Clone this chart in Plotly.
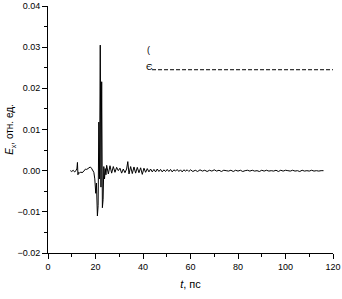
import plotly.graph_objects as go

# --- data ---
t_pre = [9.4, 10.0, 10.6, 11.2, 11.8, 12.2, 12.4, 12.6, 12.9, 13.3, 13.8, 14.3,
         14.8, 15.3, 15.8, 16.3, 16.8, 17.3, 17.8, 18.3, 18.8, 19.3]
v_pre = [0.0000, -0.0002, 0.0001, -0.0003, 0.0000, 0.0006, 0.0020, -0.0010,
         -0.0004, -0.0006, -0.0003, -0.0005, -0.0003, 0.0002, 0.0004, 0.0003,
         0.0005, 0.0008, 0.0009, 0.0006, 0.0002, -0.0004]

t_pulse = [19.7, 20.1, 20.4, 20.8, 21.1, 21.4, 21.7, 22.0, 22.3, 22.6, 22.9,
           23.2, 23.5, 23.8, 24.1, 24.4]
v_pulse = [-0.0020, -0.0055, -0.0030, -0.0110, -0.0085, 0.0118, -0.0020,
           0.0305, -0.0040, 0.0216, -0.0090, -0.0070, 0.0010, -0.0020, 0.0005,
           -0.0010]

t_ring = [24.7, 25.4, 26.1, 26.8, 27.5, 28.2, 28.9, 29.6, 30.3, 31.0, 31.7,
          32.4, 33.1, 33.6, 34.1, 34.8, 35.5, 36.2, 36.9, 37.6, 38.3, 39.0,
          39.7, 40.4, 41.1, 41.8, 42.5, 43.2, 43.9, 44.6]
v_ring = [0.0013, -0.0008, 0.0012, -0.0006, 0.0010, -0.0004, 0.0008, 0.0000,
          0.0006, -0.0006, 0.0004, -0.0005, 0.0004, 0.0022, -0.0008, 0.0010,
          -0.0007, 0.0009, -0.0006, 0.0008, -0.0005, 0.0007, -0.0009, 0.0006,
          -0.0004, 0.0005, -0.0003, 0.0004, -0.0003, 0.0003]

t_mid = [45.3, 46.0, 46.7, 47.4, 48.1, 48.8, 49.5, 50.2, 50.9, 51.6, 52.3,
         53.0, 53.7, 54.4, 55.1, 55.8, 56.5, 57.2, 57.9, 58.6, 59.3]
v_mid = [-0.0003, 0.0004, -0.0002, 0.0003, -0.0003, 0.0002, -0.0002, 0.0003,
         -0.0002, 0.0003, -0.0003, 0.0002, -0.0001, 0.0003, -0.0002, 0.0002,
         -0.0003, 0.0002, -0.0001, 0.0002, -0.0002]

t_tail = [60, 61, 62, 63, 64, 65, 66, 67, 68, 69, 70, 71, 72, 73, 74, 75, 76,
          77, 78, 79, 80, 81, 82, 83, 84, 85, 86, 87, 88, 89, 90, 91, 92, 93,
          94, 95, 96, 97, 98, 99, 100, 101, 102, 103, 104, 105, 106, 107, 108,
          109, 110, 111, 112, 113, 114, 115, 116]
v_tail = [0.0002, -0.0002, 0.0001, -0.0002, 0.0002, -0.0001, 0.0001, -0.0002,
          0.0001, -0.0001, 0.0002, -0.0001, 0.0001, -0.0002, 0.0001, 0.0000,
          -0.0001, 0.0001, -0.0002, 0.0001, -0.0001, 0.0001, -0.0002, 0.0000,
          0.0001, -0.0001, 0.0001, -0.0001, 0.0000, -0.0002, 0.0001, -0.0001,
          0.0001, -0.0001, 0.0000, -0.0001, 0.0001, -0.0002, 0.0001, -0.0001,
          0.0001, 0.0000, -0.0001, 0.0001, -0.0001, 0.0000, -0.0002, 0.0001,
          -0.0001, 0.0000, -0.0001, 0.0001, -0.0001, 0.0000, -0.0001, 0.0000,
          0.0000]

t = t_pre + t_pulse + t_ring + t_mid + t_tail
v = v_pre + v_pulse + v_ring + v_mid + v_tail

x_ticks = [0, 20, 40, 60, 80, 100, 120]
y_ticks = [-0.02, -0.01, 0.00, 0.01, 0.02, 0.03, 0.04]

FONT = "Liberation Sans, Arial, sans-serif"

fig = go.Figure()
fig.add_trace(go.Scatter(x=t, y=v, mode="lines",
                         line=dict(color="black", width=1), showlegend=False))

axis_common = dict(showgrid=False, zeroline=False, showline=True,
                   linecolor="black", linewidth=1, ticks="outside",
                   ticklen=5, tickwidth=1, tickcolor="black",
                   tickfont=dict(family=FONT, size=9, color="black"),
                   mirror=False, automargin=False)

fig.update_xaxes(range=[0, 120], tickvals=x_ticks,
                 ticklabeloverflow="allow",
                 minor=dict(ticks="outside", ticklen=3, dtick=10,
                            tickcolor="black", showgrid=False),
                 title=dict(text="<i>t</i>, пс",
                            font=dict(family=FONT, size=11, color="black"),
                            standoff=9),
                 **axis_common)
fig.update_yaxes(range=[-0.02, 0.04], tickvals=y_ticks, tickformat=".2f",
                 minor=dict(ticks="outside", ticklen=3, dtick=0.005,
                            tickcolor="black", showgrid=False),
                 title=dict(text="<i>E</i><sub>x</sub>, отн. ед.",
                            font=dict(family=FONT, size=10, color="black"),
                            standoff=1),
                 **axis_common)

# legend remnants
fig.add_annotation(xref="paper", yref="paper", x=0.342, y=0.822, text="(",
                   showarrow=False, xanchor="left", yanchor="middle",
                   font=dict(family=FONT, size=9, color="black"))
fig.add_annotation(xref="paper", yref="paper", x=0.338, y=0.752, text="Є",
                   showarrow=False, xanchor="left", yanchor="middle",
                   font=dict(family=FONT, size=9, color="black"))
fig.add_shape(type="line", xref="paper", yref="paper", x0=0.365, x1=1.0,
              y0=0.742, y1=0.742,
              line=dict(color="black", width=1, dash="4px,2px"))

fig.update_layout(width=342, height=299,
                  margin=dict(l=48, r=9, t=6, b=46, autoexpand=False),
                  paper_bgcolor="white", plot_bgcolor="white",
                  font=dict(family=FONT, color="black"))

fig.write_html("out.html", config={"displayModeBar": False},
               post_script="document.body.style.margin='0';"
                           "document.body.style.overflow='hidden';")
